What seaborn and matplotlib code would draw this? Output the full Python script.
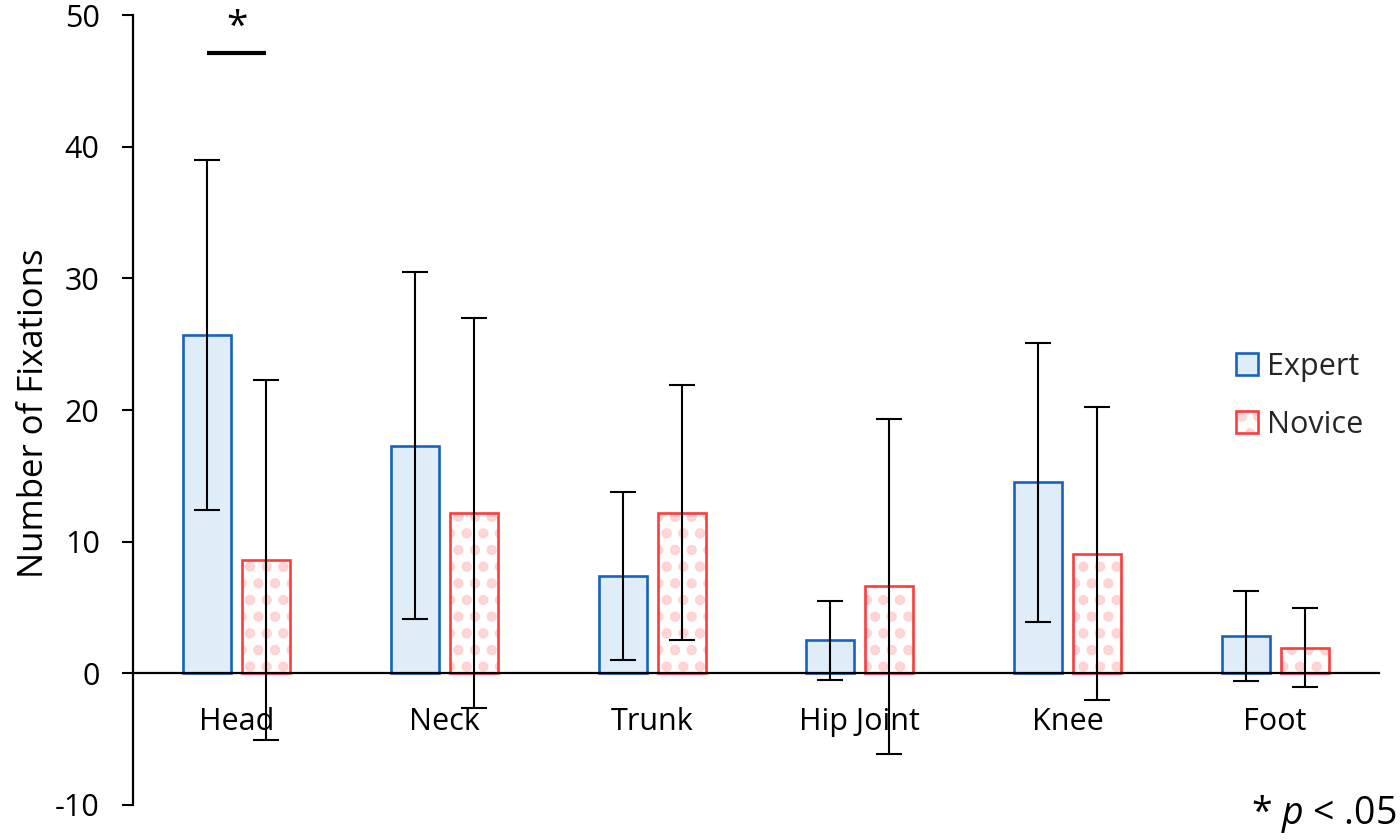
import matplotlib
matplotlib.use("Agg")
import matplotlib.pyplot as plt
from matplotlib.patches import Patch, Rectangle
import seaborn as sns
import pandas as pd

# ---- data ----
categories = ["Head", "Neck", "Trunk", "Hip Joint", "Knee", "Foot"]
groups = ["Expert", "Novice"]
expert_mean = [25.7, 17.3, 7.4, 2.5, 14.5, 2.85]
expert_sd = [13.3, 13.2, 6.4, 3.0, 10.6, 3.4]
novice_mean = [8.6, 12.2, 12.2, 6.6, 9.1, 1.95]
novice_sd = [13.7, 14.8, 9.7, 12.75, 11.1, 3.0]
y_ticks = [-10, 0, 10, 20, 30, 40, 50]
y_label = "Number of Fixations"
sig_label = "*"
note_label = "* $\\mathit{p}$ < .05"

# ---- style ----
sns.set_theme(style="white")
plt.rcParams["font.family"] = ["Open Sans", "DejaVu Sans"]
plt.rcParams["mathtext.fontset"] = "custom"
plt.rcParams["mathtext.rm"] = "Open Sans"
plt.rcParams["mathtext.it"] = "Open Sans:italic"
plt.rcParams["hatch.linewidth"] = 5.0

blue_edge = "#1763BF"
blue_fill = "#DEEDF8"
red_edge = "#FF3B3B"
pink = "#FFD3D3"

df = pd.DataFrame({
    "Region": categories * 2,
    "Group": [groups[0]] * len(categories) + [groups[1]] * len(categories),
    "Mean": expert_mean + novice_mean,
})

fig = plt.figure(figsize=(14, 8.4), dpi=100)
ax = fig.add_axes([133 / 1400, 1 - 805 / 840, 1246 / 1400, 790 / 840])

sns.barplot(data=df, x="Region", y="Mean", hue="Group", order=categories,
            hue_order=groups, errorbar=None, width=0.57, gap=0.19,
            palette={"Expert": blue_fill, "Novice": "white"},
            saturation=1, legend=False, ax=ax)

exp_bars, nov_bars = ax.containers[0], ax.containers[1]
for p in exp_bars:
    p.set_edgecolor(blue_edge)
    p.set_linewidth(1.9)
    p.set_zorder(2)
for p in nov_bars:
    p.set_facecolor("white")
    p.set_edgecolor(pink)
    p.set_hatch(".")
    p.set_linewidth(0)
    p.set_zorder(2)
    outline = Rectangle(p.get_xy(), p.get_width(), p.get_height(),
                        fill=False, edgecolor=red_edge, linewidth=1.9, zorder=2.1)
    ax.add_patch(outline)

# error bars (SD)
for bars, means, sds in [(exp_bars, expert_mean, expert_sd),
                         (nov_bars, novice_mean, novice_sd)]:
    xs = [p.get_x() + p.get_width() / 2 for p in bars]
    ax.errorbar(xs, means, yerr=sds, fmt="none", ecolor="black",
                elinewidth=1.5, capsize=9.5, capthick=1.5, zorder=4)

# axes
ax.set_ylim(-10, 50)
ax.set_xlim(-0.5, len(categories) - 0.5)
ax.set_yticks(y_ticks)
ax.set_yticklabels([str(t) for t in y_ticks])
ax.spines["top"].set_visible(False)
ax.spines["right"].set_visible(False)
ax.spines["bottom"].set_position(("data", 0))
for s in ["left", "bottom"]:
    ax.spines[s].set_color("black")
    ax.spines[s].set_linewidth(1.6)
    ax.spines[s].set_zorder(3)
ax.tick_params(axis="y", direction="out", length=8, width=1.5, pad=16,
               labelsize=22, colors="black", left=True)
ax.tick_params(axis="x", length=0, pad=24, labelsize=22, colors="black")
ax.set_xlabel("")
ax.set_ylabel(y_label, fontsize=25, color="black")
ax.yaxis.set_label_coords(-0.066, 0.496)

# significance marker between Head bars
x0 = exp_bars[0].get_x() + exp_bars[0].get_width() / 2
x1 = nov_bars[0].get_x() + nov_bars[0].get_width() / 2
ax.plot([x0, x1], [47.1, 47.1], color="black", linewidth=3, solid_capstyle="butt")
ax.text((x0 + x1) / 2, 47.6, sig_label, ha="center", va="bottom", fontsize=28,
        color="black")

# legend
h_exp = Patch(facecolor=blue_fill, edgecolor=blue_edge, linewidth=1.9)
h_nov_fill = Patch(facecolor="white", edgecolor=pink, hatch=".", linewidth=0)
h_nov_edge = Patch(facecolor="none", edgecolor=red_edge, linewidth=1.9)
leg = ax.legend([h_exp, (h_nov_fill, h_nov_edge)], groups,
                loc="center left", bbox_to_anchor=(0.885, 0.518),
                frameon=False, fontsize=22, handlelength=0.72, handleheight=0.72,
                handletextpad=0.32, labelspacing=0.92, borderpad=0,
                borderaxespad=0)

fig.text(1397 / 1400, 1 - 824 / 840, note_label, ha="right", va="baseline",
         fontsize=27, color="black")

fig.savefig("out.png", dpi=100)
